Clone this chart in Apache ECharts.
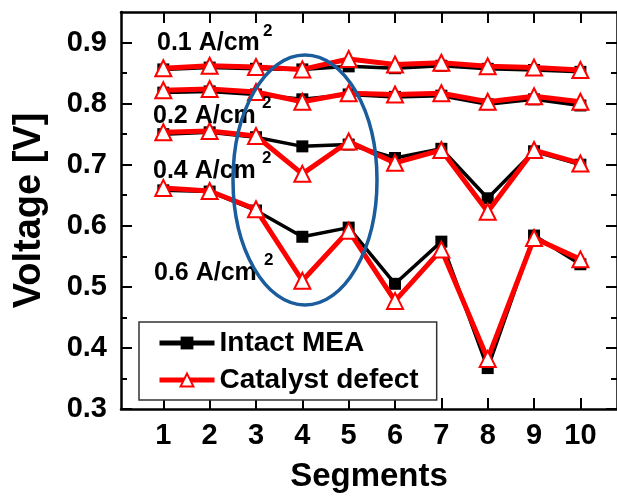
<!DOCTYPE html>
<html><head><meta charset="utf-8">
<script src="https://cdn.jsdelivr.net/npm/echarts@6/dist/echarts.min.js"></script>
<style>html,body{margin:0;padding:0;background:#fff}#c{width:617px;height:498px}</style>
</head><body><div id="c"></div>
<script>
const segments = [1, 2, 3, 4, 5, 6, 7, 8, 9, 10];
const yTicks = [0.3, 0.4, 0.5, 0.6, 0.7, 0.8, 0.9];
const yMinorTicks = [0.35, 0.45, 0.55, 0.65, 0.75, 0.85];

// Intact MEA (black squares)
const intact01 = [0.856, 0.859, 0.857, 0.856, 0.861, 0.858, 0.862, 0.857, 0.855, 0.852];
const intact02 = [0.818, 0.820, 0.815, 0.807, 0.815, 0.811, 0.813, 0.799, 0.807, 0.797];
const intact04 = [0.750, 0.753, 0.745, 0.730, 0.733, 0.711, 0.726, 0.645, 0.722, 0.700];
const intact06 = [0.658, 0.656, 0.625, 0.582, 0.597, 0.505, 0.574, 0.367, 0.584, 0.537];

// Catalyst defect (red open triangles)
const defect01 = [0.858, 0.862, 0.860, 0.856, 0.873, 0.864, 0.867, 0.861, 0.859, 0.855];
const defect02 = [0.822, 0.824, 0.819, 0.803, 0.817, 0.815, 0.817, 0.803, 0.812, 0.803];
const defect04 = [0.753, 0.755, 0.747, 0.685, 0.738, 0.703, 0.724, 0.623, 0.724, 0.702];
const defect06 = [0.662, 0.657, 0.627, 0.510, 0.592, 0.477, 0.561, 0.382, 0.580, 0.545];

const currentLabels = ['0.1 A/cm', '0.2 A/cm', '0.4 A/cm', '0.6 A/cm'];
const supLabel = '2';

const FF = "'Liberation Sans', Arial, sans-serif";
const pairs = arr => segments.map((s, i) => [s, arr[i]]);

const blackSeries = [intact01, intact02, intact04, intact06].map(a => ({
  name: 'Intact MEA', type: 'line', data: pairs(a),
  symbol: 'rect', symbolSize: 12,
  itemStyle: { color: '#000' },
  lineStyle: { color: '#000', width: 3.5 },
  z: 2
}));
const redSeries = [defect01, defect02, defect04, defect06].map(a => ({
  name: 'Catalyst defect', type: 'line', data: pairs(a),
  symbol: 'triangle', symbolSize: 16,
  itemStyle: { color: '#fff', borderColor: '#ff0000', borderWidth: 2 },
  lineStyle: { color: '#ff0000', width: 5 },
  z: 3
}));

const labelPos = [[157, 43.5, 263, 31], [153, 116.5, 262, 103], [153, 171.5, 262, 158], [154, 273.5, 264, 260]];
const graphics = [];
currentLabels.forEach((t, i) => {
  const p = labelPos[i];
  graphics.push({ type: 'text', z: 50, style: { text: t, x: p[0], y: p[1], fill: '#000', fontSize: 25, fontWeight: 'bold', fontFamily: FF, align: 'left', verticalAlign: 'middle' } });
  graphics.push({ type: 'text', z: 50, style: { text: supLabel, x: p[2], y: p[3], fill: '#000', fontSize: 17, fontWeight: 'bold', fontFamily: FF, align: 'left', verticalAlign: 'middle' } });
});
graphics.push({ type: 'ellipse', z: 100, shape: { cx: 305, cy: 180, rx: 72, ry: 125 }, style: { fill: 'none', stroke: '#1a5c9c', lineWidth: 3.5 } });

const axisLine = { show: true, lineStyle: { color: '#000', width: 2.5 } };
const tickStyle = { color: '#000', width: 2 };
const XMIN = 0.087, XMAX = 10.79, YMIN = 0.3, YMAX = 0.95;

const chart = echarts.init(document.getElementById('c'));
chart.setOption({
  animation: false,
  backgroundColor: '#fff',
  grid: { left: 121, top: 12, right: -2, bottom: 85 },
  xAxis: [
    { type: 'value', position: 'bottom', min: XMIN, max: XMAX,
      axisLine, splitLine: { show: false },
      axisTick: { inside: true, length: 11, lineStyle: tickStyle, customValues: segments },
      axisLabel: { customValues: segments, fontSize: 29, fontWeight: 'bold', fontFamily: FF, color: '#000', margin: 12 },
      name: 'Segments', nameLocation: 'middle', nameGap: 51,
      nameTextStyle: { fontSize: 33, fontWeight: 'bold', fontFamily: FF, color: '#000' } },
    { type: 'value', position: 'top', min: XMIN, max: XMAX,
      axisLine, splitLine: { show: false },
      axisTick: { inside: true, length: 11, lineStyle: tickStyle, customValues: segments },
      axisLabel: { show: false } }
  ],
  yAxis: [
    { type: 'value', position: 'left', min: YMIN, max: YMAX,
      axisLine, splitLine: { show: false },
      axisTick: { inside: true, length: 11, lineStyle: tickStyle, customValues: yTicks },
      axisLabel: { customValues: yTicks, formatter: v => v.toFixed(1), fontSize: 29, fontWeight: 'bold', fontFamily: FF, color: '#000', margin: 14 },
      name: 'Voltage [V]', nameLocation: 'middle', nameGap: 72,
      nameTextStyle: { fontSize: 38, fontWeight: 'bold', fontFamily: FF, color: '#000' } },
    { type: 'value', position: 'left', min: YMIN, max: YMAX,
      axisLine: { show: false }, splitLine: { show: false },
      axisTick: { inside: true, length: 6, lineStyle: tickStyle, customValues: yMinorTicks },
      axisLabel: { show: false } },
    { type: 'value', position: 'right', min: YMIN, max: YMAX,
      axisLine, splitLine: { show: false },
      axisTick: { inside: true, length: 11, lineStyle: tickStyle, customValues: yTicks },
      axisLabel: { show: false } },
    { type: 'value', position: 'right', min: YMIN, max: YMAX,
      axisLine: { show: false }, splitLine: { show: false },
      axisTick: { inside: true, length: 6, lineStyle: tickStyle, customValues: yMinorTicks },
      axisLabel: { show: false } }
  ],
  legend: {
    data: ['Intact MEA', 'Catalyst defect'],
    orient: 'vertical', left: 139, top: 322,
    padding: [5, 18, 4, 18], itemGap: 5, itemWidth: 55, itemHeight: 16,
    borderColor: '#333', borderWidth: 1.5, backgroundColor: '#fff',
    lineStyle: { width: 5 },
    textStyle: { fontSize: 28, fontWeight: 'bold', fontFamily: FF, color: '#000', lineHeight: 32 }
  },
  series: [...blackSeries, ...redSeries],
  graphic: graphics
});
</script>
</body></html>
